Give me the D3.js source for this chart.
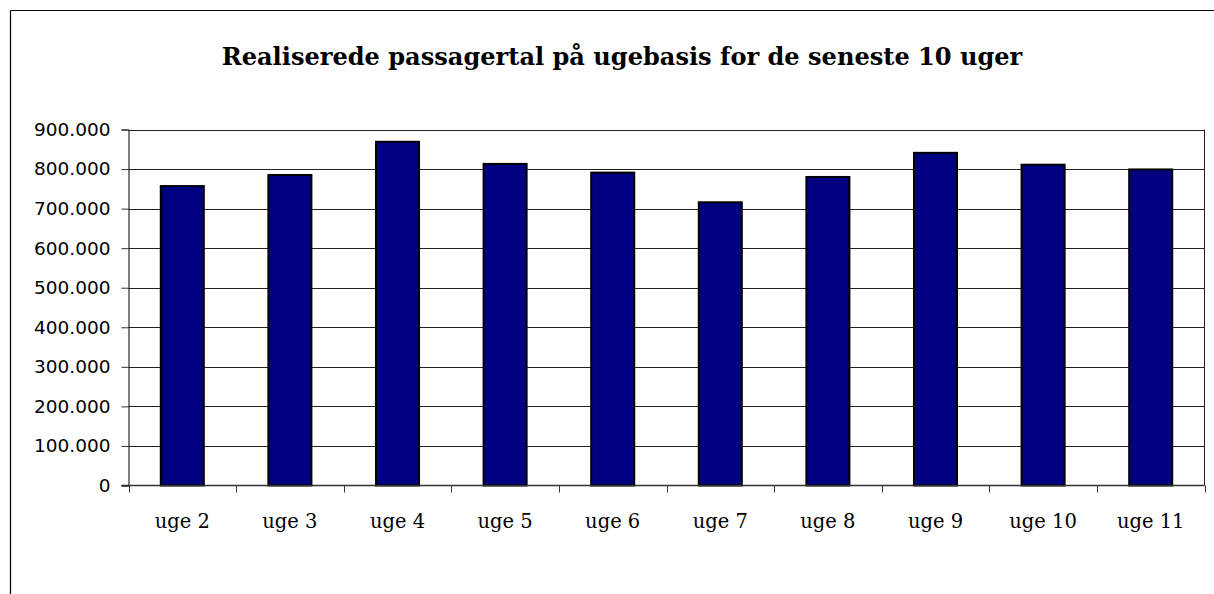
<!DOCTYPE html>
<html>
<head>
<meta charset="utf-8">
<script src="https://cdn.jsdelivr.net/npm/d3@7"></script>
<style>
  html, body { margin: 0; padding: 0; background: #fff; }
  svg { display: block; }
</style>
</head>
<body>
<svg id="chart" width="1214" height="594"></svg>
<script>
const titleText = "Realiserede passagertal på ugebasis for de seneste 10 uger";
const categories = ["uge 2", "uge 3", "uge 4", "uge 5", "uge 6", "uge 7", "uge 8", "uge 9", "uge 10", "uge 11"];
const passengers = [757000, 785000, 869000, 813000, 791000, 716000, 780000, 841000, 811000, 799000];
const yTicks = [0, 100000, 200000, 300000, 400000, 500000, 600000, 700000, 800000, 900000];

const svg = d3.select("#chart");
const plot = { left: 128.5, right: 1204.5, top: 129.5, bottom: 485.5 };

const locale = d3.formatLocale({ decimal: ",", thousands: ".", grouping: [3], currency: ["", " kr"] });
const fmt = locale.format(",d");

const x = d3.scaleBand().domain(categories).range([plot.left, plot.right]).paddingInner(0.6).paddingOuter(0.3);
const y = d3.scaleLinear().domain([0, 900000]).range([plot.bottom, plot.top]);

// outer chart frame (top and left visible)
svg.append("line").attr("x1", 10.5).attr("x2", 1214).attr("y1", 10.5).attr("y2", 10.5)
  .attr("stroke", "#000").attr("stroke-width", 1.2);
svg.append("line").attr("x1", 10.5).attr("x2", 10.5).attr("y1", 10.5).attr("y2", 594)
  .attr("stroke", "#000").attr("stroke-width", 1.2);

// title (condensed slab serif, fitted to the reference width)
const titleG = svg.append("g");
const title = titleG.append("text")
  .attr("x", 0).attr("y", 0)
  .attr("text-anchor", "middle")
  .attr("font-family", "DejaVu Serif Condensed, DejaVu Serif")
  .attr("font-weight", "bold")
  .attr("font-size", 25)
  .attr("fill", "#000")
  .text(titleText);
const tw = title.node().getComputedTextLength();
titleG.attr("transform", `translate(622,65) scale(${801 / tw},1)`);

// gridlines
svg.append("g").selectAll("line").data(yTicks.filter(d => d > 0)).join("line")
  .attr("x1", plot.left).attr("x2", plot.right)
  .attr("y1", d => Math.round(y(d)) + 0.5).attr("y2", d => Math.round(y(d)) + 0.5)
  .attr("stroke", "#222").attr("stroke-width", 1);

// right border of plot area
svg.append("line").attr("x1", plot.right).attr("x2", plot.right).attr("y1", plot.top).attr("y2", plot.bottom)
  .attr("stroke", "#222").attr("stroke-width", 1);

// y axis
const yAxis = d3.axisLeft(y).tickValues(yTicks).tickFormat(fmt).tickSize(7).tickPadding(11);
const gy = svg.append("g").attr("transform", `translate(${plot.left},0)`).call(yAxis);
gy.select(".domain").attr("stroke", "#000");
gy.selectAll(".tick line").attr("stroke", "#333");
gy.selectAll(".tick text").attr("font-family", "DejaVu Sans").attr("font-size", 18.5).attr("fill", "#000");

// bars
svg.append("g").selectAll("rect").data(categories).join("rect")
  .attr("x", d => x(d))
  .attr("y", (d, i) => y(passengers[i]))
  .attr("width", x.bandwidth())
  .attr("height", (d, i) => y(0) - y(passengers[i]))
  .attr("fill", "#000080")
  .attr("stroke", "#000")
  .attr("stroke-width", 2);

// x axis: ticks at category boundaries
const step = x.step();
const boundaries = d3.range(categories.length + 1).map(i => plot.left + i * step);
const gx = svg.append("g");
gx.append("line").attr("x1", plot.left - 7).attr("x2", plot.right).attr("y1", plot.bottom).attr("y2", plot.bottom)
  .attr("stroke", "#333").attr("stroke-width", 1.5);
gx.selectAll("line.tk").data(boundaries).join("line").attr("class", "tk")
  .attr("x1", d => Math.round(d) + 0.5).attr("x2", d => Math.round(d) + 0.5)
  .attr("y1", plot.bottom).attr("y2", plot.bottom + 7)
  .attr("stroke", "#333").attr("stroke-width", 1);
gx.selectAll("text").data(categories).join("text")
  .attr("x", d => x(d) + x.bandwidth() / 2)
  .attr("y", 528)
  .attr("text-anchor", "middle")
  .attr("font-family", "DejaVu Serif")
  .attr("font-size", 19.5)
  .attr("fill", "#000")
  .text(d => d);
</script>
</body>
</html>
